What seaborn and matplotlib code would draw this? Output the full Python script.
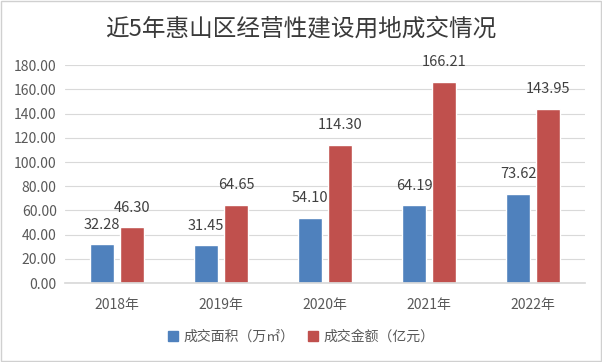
import matplotlib
matplotlib.use("Agg")
import matplotlib.pyplot as plt
import seaborn as sns
import pandas as pd
from matplotlib.patches import Rectangle

# Data
years = ["2018年", "2019年", "2020年", "2021年", "2022年"]
area = [32.28, 31.45, 54.10, 64.19, 73.62]      # 成交面积（万㎡）
amount = [46.30, 64.65, 114.30, 166.21, 143.95]  # 成交金额（亿元）
series = ["成交面积（万㎡）", "成交金额（亿元）"]
colors = ["#4f81bd", "#c0504d"]

sns.set_theme(style="white")
plt.rcParams["font.family"] = ["Noto Sans CJK SC", "DejaVu Sans"]

df = pd.DataFrame({
    "year": years * 2,
    "value": area + amount,
    "series": [series[0]] * len(years) + [series[1]] * len(years),
})

fig = plt.figure(figsize=(6.02, 3.62), dpi=100)
ax = fig.add_axes([0.108, 0.218, 0.864, 0.602])

sns.barplot(data=df, x="year", y="value", hue="series", hue_order=series,
            palette=colors, width=0.58, gap=0.22, ax=ax, legend=False,
            saturation=1)

ax.set_ylim(0, 180)
ax.set_yticks(range(0, 181, 20))
ax.set_yticklabels([f"{v:.2f}" for v in range(0, 181, 20)])
ax.yaxis.grid(True, color="#d9d9d9", linewidth=0.8)
ax.set_axisbelow(True)
for s in ["top", "right", "left"]:
    ax.spines[s].set_visible(False)
ax.spines["bottom"].set_color("#d9d9d9")
ax.tick_params(axis="both", length=0, colors="#595959", labelsize=10)
ax.tick_params(axis="x", pad=11)
ax.tick_params(axis="y", pad=6)
ax.set_xlabel("")
ax.set_ylabel("")
ax.set_xlim(-0.5, 4.5)

# value labels
for cont in ax.containers:
    ax.bar_label(cont, fmt="%.2f", padding=9, fontsize=10.5, color="#404040")

fig.text(0.5, 0.92, "近5年惠山区经营性建设用地成交情况", ha="center", va="center",
         fontsize=17, color="#3a3a3a")

handles = [Rectangle((0, 0), 1, 1, color=c) for c in colors]
fig.legend(handles, series, loc="center", bbox_to_anchor=(0.5, 0.07), ncol=2,
           frameon=False, fontsize=10, handlelength=0.7, handleheight=0.7,
           handletextpad=0.4, columnspacing=1.0, labelcolor="#595959")

fig.patches.append(Rectangle((0.002, 0.003), 0.996, 0.994, transform=fig.transFigure,
                             fill=False, edgecolor="#d0d0d0", linewidth=1))

fig.savefig("out.png", dpi=100, facecolor="white")
